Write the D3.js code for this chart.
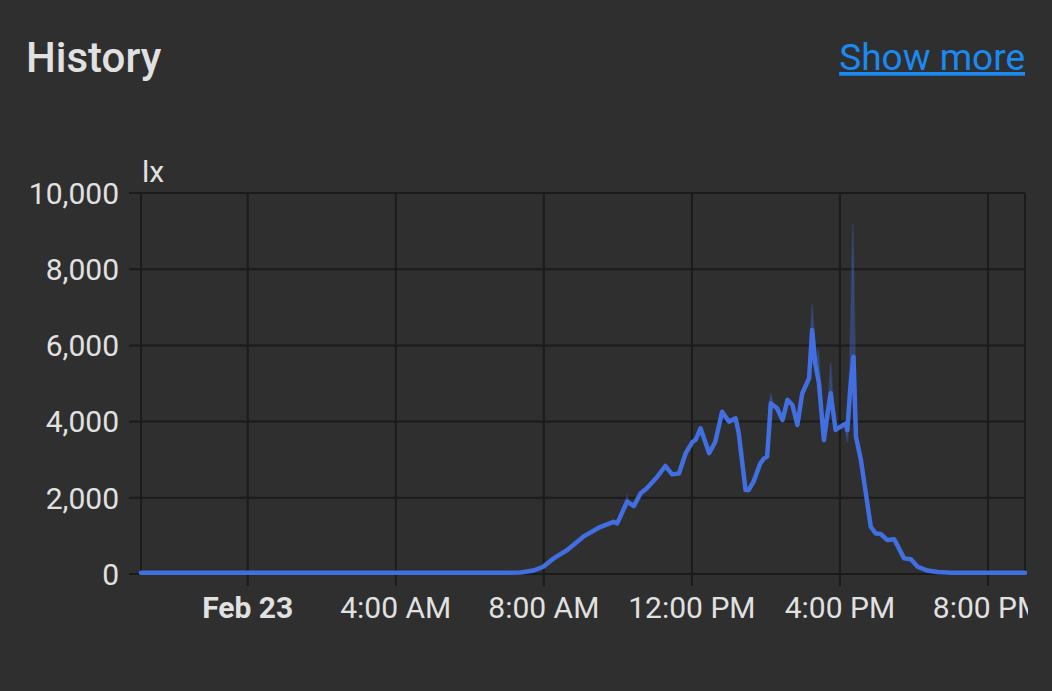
<!DOCTYPE html>
<html>
<head>
<meta charset="utf-8">
<script src="https://cdn.jsdelivr.net/npm/d3@7"></script>
<style>
  html, body { margin: 0; padding: 0; background: #2f2f2f; }
  svg { display: block; font-family: Roboto, "Noto Sans", sans-serif; }
</style>
</head>
<body>
<svg id="chart" width="1052" height="691"></svg>
<script>
// ---------- data ----------
const titleText = "History";
const linkText = "Show more";
const unitLabel = "lx";

const yTicks = [0, 2000, 4000, 6000, 8000, 10000];
const xTickTimes = ["2024-02-23 00:00", "2024-02-23 04:00", "2024-02-23 08:00",
                    "2024-02-23 12:00", "2024-02-23 16:00", "2024-02-23 20:00"];
const xTickLabels = ["Feb 23", "4:00 AM", "8:00 AM", "12:00 PM", "4:00 PM", "8:00 PM"];
const domainStart = "2024-02-22 21:07";
const domainEnd = "2024-02-23 21:00";

const times = [
  "2024-02-22 21:07", "2024-02-23 00:00", "2024-02-23 07:00", "2024-02-23 07:22",
  "2024-02-23 07:43", "2024-02-23 07:59", "2024-02-23 08:16", "2024-02-23 08:38",
  "2024-02-23 09:04", "2024-02-23 09:29", "2024-02-23 09:53", "2024-02-23 09:59",
  "2024-02-23 10:15", "2024-02-23 10:26", "2024-02-23 10:37", "2024-02-23 10:47",
  "2024-02-23 11:04", "2024-02-23 11:17", "2024-02-23 11:28", "2024-02-23 11:39",
  "2024-02-23 11:50", "2024-02-23 12:01", "2024-02-23 12:06", "2024-02-23 12:14",
  "2024-02-23 12:28", "2024-02-23 12:38", "2024-02-23 12:49", "2024-02-23 13:00",
  "2024-02-23 13:11", "2024-02-23 13:16", "2024-02-23 13:27", "2024-02-23 13:32",
  "2024-02-23 13:40", "2024-02-23 13:51", "2024-02-23 13:57", "2024-02-23 14:02",
  "2024-02-23 14:08", "2024-02-23 14:18", "2024-02-23 14:27", "2024-02-23 14:35",
  "2024-02-23 14:43", "2024-02-23 14:51", "2024-02-23 14:59", "2024-02-23 15:10",
  "2024-02-23 15:15", "2024-02-23 15:20", "2024-02-23 15:26", "2024-02-23 15:34",
  "2024-02-23 15:40", "2024-02-23 15:45", "2024-02-23 15:53", "2024-02-23 16:01",
  "2024-02-23 16:10", "2024-02-23 16:12", "2024-02-23 16:17", "2024-02-23 16:22",
  "2024-02-23 16:26", "2024-02-23 16:34", "2024-02-23 16:42", "2024-02-23 16:50",
  "2024-02-23 16:58", "2024-02-23 17:06", "2024-02-23 17:17", "2024-02-23 17:28",
  "2024-02-23 17:44", "2024-02-23 17:55", "2024-02-23 18:06", "2024-02-23 18:22",
  "2024-02-23 18:38", "2024-02-23 19:00", "2024-02-23 21:00"
];
const luxValues = [
  30, 30, 30, 40,
  90, 190, 410, 630,
  980, 1215, 1370, 1330,
  1900, 1785, 2120, 2250,
  2555, 2835, 2615, 2640,
  3170, 3470, 3520, 3825,
  3170, 3470, 4260, 4000,
  4085, 3690, 2205, 2205,
  2425, 2905, 3035, 3080,
  4480, 4350, 4040, 4570,
  4435, 3910, 4745, 5135,
  6405, 5530, 5005, 3515,
  4215, 4745, 3780, 3865,
  3955, 3780, 4915, 5700,
  3600, 2990, 2120, 1240,
  1065, 1050, 890, 910,
  410, 385, 190, 90,
  50, 35, 30
];

// min/max band (faint), null entries separate segments
const bandTimes = [
  "2024-02-23 10:11", "2024-02-23 10:15", "2024-02-23 10:19", null,
  "2024-02-23 14:04", "2024-02-23 14:08", "2024-02-23 14:12", null,
  "2024-02-23 15:10", "2024-02-23 15:15", "2024-02-23 15:20", null,
  "2024-02-23 15:21", "2024-02-23 15:25", "2024-02-23 15:29", null,
  "2024-02-23 15:41", "2024-02-23 15:45", "2024-02-23 15:49", null,
  "2024-02-23 16:08", "2024-02-23 16:12", "2024-02-23 16:16", "2024-02-23 16:21", "2024-02-23 16:26"
];
const bandLow = [
  1850, 1900, 1850, null,
  4300, 4450, 4400, null,
  5300, 6300, 5600, null,
  5300, 5000, 4800, null,
  4400, 4600, 4400, null,
  3900, 3450, 4400, 5600, 4000
];
const bandHigh = [
  1850, 2050, 1850, null,
  4300, 4750, 4400, null,
  5300, 7100, 5600, null,
  5300, 5900, 4800, null,
  4400, 5550, 4400, null,
  3900, 4000, 5400, 9200, 4000
];

// ---------- drawing ----------
const parse = d3.timeParse("%Y-%m-%d %H:%M");
const svg = d3.select("#chart");
const W = 1052, H = 691;
const textColor = "#e1e1e1";
const gridColor = "#1b1b1b";
const lineColor = "#416ee0";

svg.append("rect").attr("width", W).attr("height", H).attr("fill", "#2f2f2f");

svg.append("text").attr("x", 26).attr("y", 72)
  .attr("font-size", 42).attr("font-weight", 500).attr("fill", textColor)
  .text(titleText);

svg.append("text").attr("x", 1025).attr("y", 70)
  .attr("text-anchor", "end").attr("font-size", 37)
  .attr("fill", "#1a8af2").attr("text-decoration", "underline")
  .text(linkText);

const x = d3.scaleTime().domain([parse(domainStart), parse(domainEnd)]).range([141, 1025]);
const y = d3.scaleLinear().domain([0, 10000]).range([574, 193]);

svg.append("defs").append("clipPath").attr("id", "clipAll")
  .append("rect").attr("x", 0).attr("y", 0).attr("width", 1028).attr("height", H);

const g = svg.append("g").attr("clip-path", "url(#clipAll)");

// horizontal grid
g.append("g").selectAll("line").data(yTicks).join("line")
  .attr("x1", 129).attr("x2", x.range()[1])
  .attr("y1", d => y(d)).attr("y2", d => y(d))
  .attr("stroke", gridColor).attr("stroke-width", 2);

// vertical grid with ticks
g.append("g").selectAll("line").data(xTickTimes).join("line")
  .attr("x1", d => x(parse(d))).attr("x2", d => x(parse(d)))
  .attr("y1", y(10000)).attr("y2", 586)
  .attr("stroke", gridColor).attr("stroke-width", 2);

// left axis and right border
g.append("line").attr("x1", x.range()[0]).attr("x2", x.range()[0])
  .attr("y1", y(10000)).attr("y2", y(0)).attr("stroke", gridColor).attr("stroke-width", 2);
g.append("line").attr("x1", x.range()[1]).attr("x2", x.range()[1])
  .attr("y1", y(10000)).attr("y2", y(0)).attr("stroke", gridColor).attr("stroke-width", 2);

// y labels
const fmt = d3.format(",");
g.append("g").selectAll("text").data(yTicks).join("text")
  .attr("x", 119).attr("y", d => y(d)).attr("dy", "0.36em")
  .attr("text-anchor", "end").attr("font-size", 30).attr("fill", textColor)
  .text(d => fmt(d));

// unit label
g.append("text").attr("x", 142).attr("y", 182)
  .attr("font-size", 30).attr("fill", textColor).text(unitLabel);

// x labels
g.append("g").selectAll("text").data(xTickTimes).join("text")
  .attr("x", d => x(parse(d))).attr("y", 618)
  .attr("text-anchor", "middle").attr("font-size", 30)
  .attr("font-weight", (d, i) => i === 0 ? 700 : 400)
  .attr("fill", textColor)
  .text((d, i) => xTickLabels[i]);

// band
const band = bandTimes.map((t, i) => ({ t: t ? parse(t) : null, lo: bandLow[i], hi: bandHigh[i] }));
g.append("path").datum(band)
  .attr("fill", lineColor).attr("fill-opacity", 0.35)
  .attr("stroke", lineColor).attr("stroke-opacity", 0.2).attr("stroke-width", 2)
  .attr("d", d3.area().defined(d => d.t !== null)
    .x(d => x(d.t)).y0(d => y(d.lo)).y1(d => y(d.hi)));

// line
const series = times.map((t, i) => ({ t: parse(t), v: luxValues[i] }));
g.append("path").datum(series)
  .attr("fill", "none").attr("stroke", lineColor).attr("stroke-width", 4.5)
  .attr("stroke-linejoin", "round").attr("stroke-linecap", "round")
  .attr("d", d3.line().x(d => x(d.t)).y(d => y(d.v)));
</script>
</body>
</html>
